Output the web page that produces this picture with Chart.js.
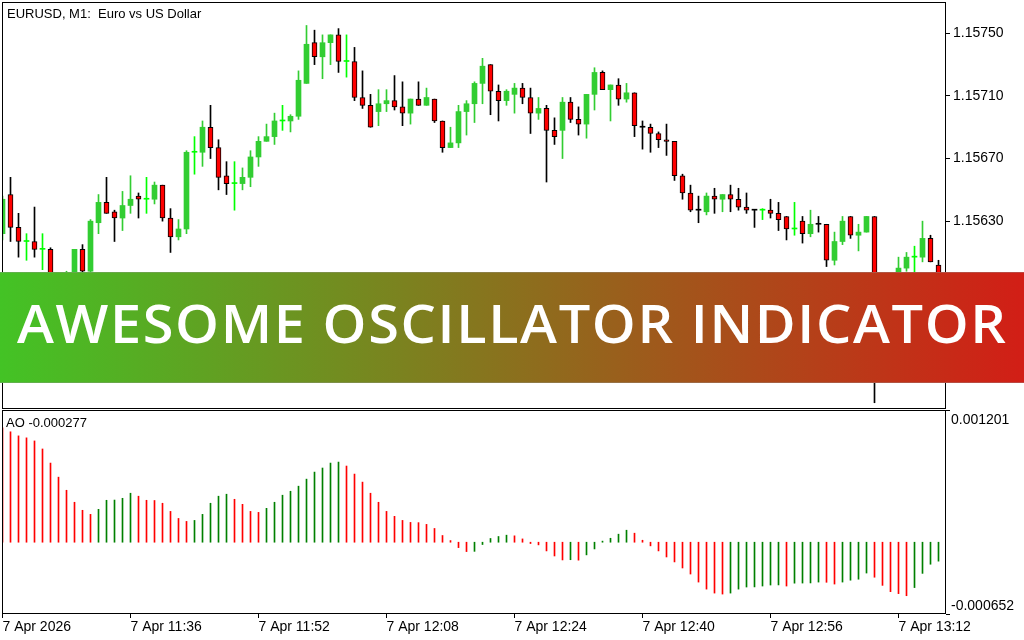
<!DOCTYPE html>
<html>
<head>
<meta charset="utf-8">
<title>Awesome Oscillator Indicator</title>
<script src="https://cdn.jsdelivr.net/npm/chart.js@4.4.1/dist/chart.umd.min.js"></script>
<style>
  html, body { margin: 0; padding: 0; background: #fff; }
  #wrap { position: relative; width: 1024px; height: 640px; overflow: hidden; background: #fff; }
  #priceCanvas { position: absolute; left: 0; top: 0; }
  #aoCanvas { position: absolute; left: 0; top: 410px; }
  #banner {
    position: absolute; left: 0; top: 272px; width: 1024px; height: 109px;
    border-top: 1px solid rgba(150, 150, 150, 0.35);
    border-bottom: 1px solid rgba(150, 150, 150, 0.35);
    background: linear-gradient(90deg, #43C325 0%, #D21E16 100%);
  }
  #bannerText {
    position: absolute; left: 17px; top: 24px;
    font-family: "Open Sans", sans-serif; font-weight: 600; font-size: 52px; line-height: 1;
    letter-spacing: 1.5px;
    color: #fff; white-space: nowrap; transform-origin: 0 0;
  }
</style>
</head>
<body>
<div id="wrap">
  <canvas id="priceCanvas" width="1024" height="410"></canvas>
  <canvas id="aoCanvas" width="1024" height="230"></canvas>
  <div id="banner"><span id="bannerText">AWESOME OSCILLATOR INDICATOR</span></div>
</div>
<script>
// Chart data: EURUSD M1, 7 Apr 2026 11:20 .. 13:17 (one entry per minute)
const opens = [
  1.15622, 1.15647, 1.15626, 1.15617, 1.15617, 1.15612, 1.15612, 1.15585, 1.15574, 1.15594,
  1.15612, 1.15598, 1.15629, 1.15642, 1.15636, 1.15632, 1.15640, 1.15646, 1.15644, 1.15644,
  1.15653, 1.15632, 1.15620, 1.15625, 1.15674, 1.15674, 1.15690, 1.15677, 1.15659, 1.15654,
  1.15654, 1.15658, 1.15671, 1.15681, 1.15684, 1.15694, 1.15694, 1.15697, 1.15718, 1.15744,
  1.15735, 1.15744, 1.15749, 1.15732, 1.15732, 1.15709, 1.15704, 1.15700, 1.15705, 1.15707,
  1.15703, 1.15699, 1.15708, 1.15704, 1.15708, 1.15694, 1.15677, 1.15680, 1.15700, 1.15705,
  1.15718, 1.15730, 1.15713, 1.15707, 1.15711, 1.15715, 1.15709, 1.15699, 1.15702, 1.15688,
  1.15688, 1.15706, 1.15695, 1.15692, 1.15711, 1.15725, 1.15714, 1.15717, 1.15708, 1.15712,
  1.15690, 1.15690, 1.15686, 1.15682, 1.15681, 1.15659, 1.15648, 1.15637, 1.15636, 1.15646,
  1.15644, 1.15647, 1.15644, 1.15639, 1.15637, 1.15637, 1.15637, 1.15635, 1.15633, 1.15625,
  1.15630, 1.15622, 1.15628, 1.15628, 1.15605, 1.15617, 1.15633, 1.15621, 1.15623, 1.15633,
  1.15575, 1.15590, 1.15588, 1.15600, 1.15607, 1.15607, 1.15619, 1.15602
];
const highs = [
  1.15646, 1.15658, 1.15635, 1.15622, 1.15639, 1.15622, 1.15613, 1.15590, 1.15598, 1.15612,
  1.15615, 1.15631, 1.15647, 1.15658, 1.15637, 1.15649, 1.15659, 1.15648, 1.15658, 1.15655,
  1.15653, 1.15638, 1.15631, 1.15675, 1.15684, 1.15694, 1.15704, 1.15682, 1.15668, 1.15668,
  1.15664, 1.15675, 1.15684, 1.15692, 1.15699, 1.15704, 1.15698, 1.15726, 1.15755, 1.15752,
  1.15749, 1.15749, 1.15753, 1.15749, 1.15741, 1.15726, 1.15711, 1.15714, 1.15714, 1.15723,
  1.15719, 1.15708, 1.15719, 1.15715, 1.15708, 1.15694, 1.15690, 1.15704, 1.15707, 1.15719,
  1.15734, 1.15730, 1.15717, 1.15714, 1.15718, 1.15718, 1.15715, 1.15709, 1.15704, 1.15696,
  1.15709, 1.15709, 1.15703, 1.15711, 1.15728, 1.15726, 1.15717, 1.15721, 1.15718, 1.15712,
  1.15694, 1.15692, 1.15687, 1.15692, 1.15681, 1.15660, 1.15653, 1.15646, 1.15648, 1.15651,
  1.15647, 1.15653, 1.15651, 1.15648, 1.15637, 1.15638, 1.15644, 1.15642, 1.15633, 1.15642,
  1.15633, 1.15637, 1.15633, 1.15628, 1.15623, 1.15633, 1.15633, 1.15628, 1.15633, 1.15633,
  1.15595, 1.15596, 1.15607, 1.15610, 1.15614, 1.15630, 1.15621, 1.15605
];
const lows = [
  1.15618, 1.15617, 1.15607, 1.15605, 1.15607, 1.15599, 1.15580, 1.15568, 1.15570, 1.15590,
  1.15592, 1.15595, 1.15622, 1.15635, 1.15617, 1.15624, 1.15635, 1.15632, 1.15635, 1.15641,
  1.15630, 1.15610, 1.15618, 1.15622, 1.15660, 1.15665, 1.15670, 1.15650, 1.15647, 1.15637,
  1.15650, 1.15652, 1.15665, 1.15681, 1.15679, 1.15688, 1.15687, 1.15695, 1.15718, 1.15730,
  1.15721, 1.15730, 1.15725, 1.15722, 1.15707, 1.15702, 1.15690, 1.15691, 1.15700, 1.15701,
  1.15691, 1.15692, 1.15704, 1.15704, 1.15693, 1.15674, 1.15677, 1.15677, 1.15685, 1.15693,
  1.15705, 1.15698, 1.15694, 1.15704, 1.15699, 1.15705, 1.15686, 1.15695, 1.15655, 1.15679,
  1.15670, 1.15693, 1.15685, 1.15683, 1.15701, 1.15714, 1.15694, 1.15704, 1.15706, 1.15684,
  1.15676, 1.15674, 1.15677, 1.15672, 1.15656, 1.15644, 1.15636, 1.15629, 1.15634, 1.15635,
  1.15636, 1.15636, 1.15637, 1.15635, 1.15626, 1.15631, 1.15632, 1.15624, 1.15618, 1.15621,
  1.15616, 1.15620, 1.15623, 1.15601, 1.15602, 1.15615, 1.15619, 1.15611, 1.15623, 1.15514,
  1.15570, 1.15580, 1.15584, 1.15598, 1.15596, 1.15604, 1.15604, 1.15586
];
const closes = [
  1.15644, 1.15626, 1.15617, 1.15617, 1.15612, 1.15612, 1.15585, 1.15574, 1.15594, 1.15612,
  1.15598, 1.15630, 1.15642, 1.15635, 1.15632, 1.15640, 1.15644, 1.15644, 1.15644, 1.15653,
  1.15632, 1.15620, 1.15625, 1.15674, 1.15674, 1.15690, 1.15677, 1.15658, 1.15654, 1.15654,
  1.15658, 1.15671, 1.15681, 1.15684, 1.15694, 1.15694, 1.15697, 1.15720, 1.15743, 1.15735,
  1.15744, 1.15749, 1.15732, 1.15732, 1.15709, 1.15704, 1.15690, 1.15705, 1.15707, 1.15703,
  1.15699, 1.15708, 1.15704, 1.15709, 1.15694, 1.15677, 1.15680, 1.15700, 1.15705, 1.15718,
  1.15729, 1.15713, 1.15707, 1.15713, 1.15715, 1.15709, 1.15699, 1.15702, 1.15688, 1.15684,
  1.15706, 1.15695, 1.15692, 1.15711, 1.15725, 1.15714, 1.15717, 1.15708, 1.15712, 1.15691,
  1.15690, 1.15686, 1.15682, 1.15681, 1.15659, 1.15648, 1.15637, 1.15637, 1.15646, 1.15644,
  1.15647, 1.15644, 1.15639, 1.15637, 1.15637, 1.15637, 1.15635, 1.15631, 1.15625, 1.15625,
  1.15622, 1.15628, 1.15628, 1.15605, 1.15617, 1.15630, 1.15621, 1.15623, 1.15633, 1.15575,
  1.15590, 1.15585, 1.15600, 1.15607, 1.15607, 1.15619, 1.15604, 1.15590
];
// dojis (open == close) that MT draws in the "down" colour
const flatDown = [80, 87, 94, 102];

// Awesome Oscillator histogram
const aoValues = [
  0.001040, 0.001003, 0.000966, 0.000948, 0.000920, 0.000847, 0.000719, 0.000591, 0.000472, 0.000363,
  0.000290, 0.000253, 0.000299, 0.000381, 0.000383, 0.000399, 0.000445, 0.000418, 0.000381, 0.000379,
  0.000354, 0.000280, 0.000216, 0.000189, 0.000198, 0.000253, 0.000354, 0.000418, 0.000436, 0.000390,
  0.000344, 0.000280, 0.000271, 0.000308, 0.000363, 0.000427, 0.000463, 0.000509, 0.000573, 0.000637,
  0.000674, 0.000719, 0.000728, 0.000692, 0.000619, 0.000546, 0.000445, 0.000363, 0.000280, 0.000235,
  0.000198, 0.000180, 0.000178, 0.000162, 0.000125, 0.000061, 0.000015, -0.000049, -0.000085, -0.000083,
  -0.000021, 0.000034, 0.000052, 0.000064, 0.000058, 0.000030, -0.000012, -0.000024, -0.000079, -0.000125,
  -0.000161, -0.000159, -0.000163, -0.000115, -0.000061, 0.000010, 0.000036, 0.000073, 0.000109, 0.000082,
  0.000018, -0.000033, -0.000079, -0.000134, -0.000179, -0.000234, -0.000289, -0.000362, -0.000426, -0.000462,
  -0.000471, -0.000462, -0.000426, -0.000407, -0.000406, -0.000398, -0.000389, -0.000388, -0.000398, -0.000372,
  -0.000371, -0.000370, -0.000362, -0.000364, -0.000380, -0.000362, -0.000345, -0.000336, -0.000280, -0.000318,
  -0.000392, -0.000449, -0.000467, -0.000486, -0.000412, -0.000283, -0.000200, -0.000172
];
const aoCurrent = -0.000277;

// Axes
const priceMin = 1.15510;
const priceMax = 1.15770;
const priceTicks = [1.15550, 1.15590, 1.15630, 1.15670, 1.15710, 1.15750];
const aoMin = -0.000652;
const aoMax = 0.001201;
const timeTickIndex = [0, 16, 32, 48, 64, 80, 96, 112];
const timeTickLabels = ['7 Apr 2026', '7 Apr 11:36', '7 Apr 11:52', '7 Apr 12:08',
                        '7 Apr 12:24', '7 Apr 12:40', '7 Apr 12:56', '7 Apr 13:12'];
const symbolTitle = 'EURUSD, M1:  Euro vs US Dollar';

// Styling
const upBody = '#32CD32';
const upDoji = '#00FF00';
const downBody = '#FF0000';
const ink = '#000000';
const aoUp = '#008000';
const aoDown = '#FF0000';
const axisFont = { family: 'Liberation Sans', size: 14 };
const titleFont = '13px "Liberation Sans"';
const xMin = -0.0625;
const xMax = 117.9375;
const bannerWidth = 989;

Chart.defaults.font.family = 'Liberation Sans';

// Candle direction
function candleDir(i) {
    if (closes[i] > opens[i]) return 'up';
    if (closes[i] < opens[i]) return 'down';
    return flatDown.includes(i) ? 'flatDown' : 'flatUp';
}

function bodyColor(i) {
    const d = candleDir(i);
    if (d === 'up') return upBody;
    if (d === 'down') return downBody;
    return d === 'flatUp' ? upDoji : ink;
}

function wickColor(i) {
    const d = candleDir(i);
    if (d === 'up') return upBody;
    if (d === 'flatUp') return upDoji;
    return ink;
}

const bodies = opens.map((o, i) => ({ x: i, y: [o, closes[i]] }));
const wicks = lows.map((l, i) => ({ x: i, y: [l, highs[i]] }));
const aoBars = aoValues.map((v, i) => ({ x: i, y: v }));
const aoColors = aoValues.map((v, i) => (i > 0 && v > aoValues[i - 1]) ? aoUp : aoDown);

// Black box around each plot area
const framePlugin = {
    id: 'frame',
    afterDraw(chart) {
        const { ctx, chartArea: a } = chart;
        ctx.save();
        ctx.strokeStyle = ink;
        ctx.lineWidth = 1;
        ctx.strokeRect(a.left + 0.5, a.top + 0.5, a.right - a.left - 1, a.bottom - a.top - 1);
        ctx.restore();
    }
};

const priceTextPlugin = {
    id: 'priceText',
    afterDraw(chart) {
        const { ctx, chartArea: a } = chart;
        ctx.save();
        ctx.font = titleFont;
        ctx.fillStyle = ink;
        ctx.textBaseline = 'alphabetic';
        ctx.fillText(symbolTitle, a.left + 5, a.top + 16);
        ctx.restore();
    }
};

const aoTextPlugin = {
    id: 'aoText',
    afterDraw(chart) {
        const { ctx, chartArea: a } = chart;
        const y = chart.scales.y;
        ctx.save();
        ctx.fillStyle = ink;
        ctx.textBaseline = 'alphabetic';
        ctx.font = titleFont;
        ctx.fillText('AO ' + aoCurrent.toFixed(6), a.left + 4, a.top + 17);
        ctx.font = '14px "Liberation Sans"';
        ctx.fillText(aoMax.toFixed(6), a.right + 5, y.getPixelForValue(aoMax) + 14);
        ctx.fillText(aoMin.toFixed(6), a.right + 5, y.getPixelForValue(aoMin) - 4);
        ctx.restore();
    }
};

const sideAxisFit = scale => {
    scale.width = 78;
    scale.paddingTop = 0;
    scale.paddingBottom = 0;
};

// Price chart (candlesticks drawn as floating bars)
new Chart(document.getElementById('priceCanvas'), {
    type: 'bar',
    data: {
        datasets: [
            {
                label: 'Body',
                data: bodies,
                order: 1,
                grouped: false,
                barThickness: 5,
                minBarLength: 1,
                backgroundColor: ctx => bodyColor(ctx.dataIndex),
                borderColor: ink,
                borderWidth: ctx => candleDir(ctx.dataIndex) === 'down' ? 1 : 0,
                borderSkipped: false
            },
            {
                label: 'Wick',
                data: wicks,
                order: 2,
                grouped: false,
                barThickness: 1,
                backgroundColor: ctx => wickColor(ctx.dataIndex),
                borderWidth: 0
            }
        ]
    },
    options: {
        responsive: false,
        animation: false,
        devicePixelRatio: 1,
        layout: { padding: { top: 2, left: 2, right: 0, bottom: 1 } },
        plugins: { legend: { display: false }, tooltip: { enabled: false } },
        scales: {
            x: { type: 'linear', display: false, min: xMin, max: xMax, offset: false, grid: { offset: false } },
            y: {
                type: 'linear',
                position: 'right',
                min: priceMin,
                max: priceMax,
                afterBuildTicks: scale => { scale.ticks = priceTicks.map(v => ({ value: v })); },
                afterFit: sideAxisFit,
                grid: { drawOnChartArea: false, drawTicks: true, tickLength: 4, color: ink },
                border: { display: false },
                ticks: { font: axisFont, color: ink, padding: 3, autoSkip: false, callback: v => v.toFixed(5) }
            }
        }
    },
    plugins: [framePlugin, priceTextPlugin]
});

// Awesome Oscillator chart
new Chart(document.getElementById('aoCanvas'), {
    type: 'bar',
    data: {
        datasets: [{
            label: 'AO',
            data: aoBars,
            grouped: false,
            barThickness: 1,
            backgroundColor: aoColors,
            borderWidth: 0
        }]
    },
    options: {
        responsive: false,
        animation: false,
        devicePixelRatio: 1,
        layout: { padding: { top: 0, left: 2, right: 0, bottom: 0 } },
        plugins: { legend: { display: false }, tooltip: { enabled: false } },
        scales: {
            x: {
                type: 'linear',
                position: 'bottom',
                min: xMin,
                max: xMax,
                offset: false,
                afterBuildTicks: scale => { scale.ticks = timeTickIndex.map(v => ({ value: v })); },
                afterFit: scale => { scale.height = 26; scale.paddingLeft = 0; scale.paddingRight = 0; },
                grid: { drawOnChartArea: false, drawTicks: true, tickLength: 4, color: ink, offset: false },
                border: { display: false },
                ticks: {
                    font: axisFont, color: ink, padding: 1, align: 'start',
                    autoSkip: false, maxRotation: 0, minRotation: 0,
                    callback: v => {
                        const j = timeTickIndex.indexOf(v);
                        return j >= 0 ? timeTickLabels[j] : '';
                    }
                }
            },
            y: {
                type: 'linear',
                position: 'right',
                min: aoMin,
                max: aoMax,
                afterBuildTicks: scale => { scale.ticks = [{ value: aoMin }, { value: aoMax }]; },
                afterFit: sideAxisFit,
                grid: { drawOnChartArea: false, drawTicks: true, tickLength: 4, color: ink },
                border: { display: false },
                ticks: { display: false }
            }
        }
    },
    plugins: [framePlugin, aoTextPlugin]
});

// Stretch the banner title (wide geometric letters) to the width it has in the picture
const bannerText = document.getElementById('bannerText');
const naturalWidth = bannerText.getBoundingClientRect().width - 1.5;
bannerText.style.transform = 'scaleX(' + (bannerWidth / naturalWidth) + ')';
</script>
</body>
</html>
